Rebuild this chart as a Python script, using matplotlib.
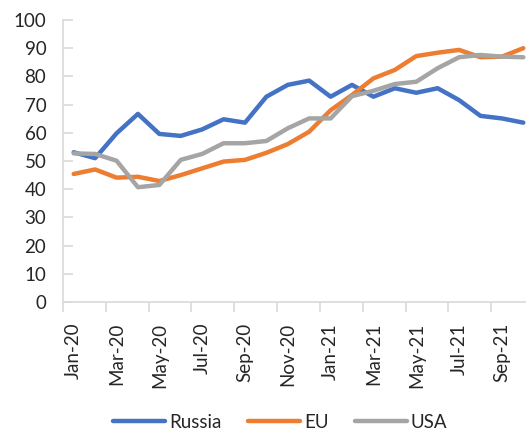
import matplotlib.pyplot as plt
import numpy as np

plt.rcParams['font.family'] = ['Lato', 'DejaVu Sans']

months = ['Jan-20', 'Feb-20', 'Mar-20', 'Apr-20', 'May-20', 'Jun-20', 'Jul-20', 'Aug-20',
          'Sep-20', 'Oct-20', 'Nov-20', 'Dec-20', 'Jan-21', 'Feb-21', 'Mar-21', 'Apr-21',
          'May-21', 'Jun-21', 'Jul-21', 'Aug-21', 'Sep-21', 'Oct-21']
russia = [53.1, 51.0, 59.8, 66.7, 59.6, 58.9, 61.2, 64.8, 63.6, 72.8, 77.0, 78.5,
          72.8, 77.0, 72.8, 75.8, 74.2, 75.8, 71.6, 66.0, 65.1, 63.6]
eu = [45.4, 47.0, 44.1, 44.4, 42.9, 45.0, 47.4, 49.8, 50.4, 52.9, 56.0, 60.4,
      68.0, 73.4, 79.3, 82.3, 87.2, 88.4, 89.4, 86.8, 87.0, 90.0]
usa = [52.7, 52.5, 50.1, 40.7, 41.5, 50.4, 52.5, 56.3, 56.3, 57.1, 61.6, 65.1,
       65.1, 73.0, 74.9, 77.3, 78.1, 82.9, 86.8, 87.6, 87.0, 86.8]

x = np.arange(len(months))
axis_grey = '#D9D9D9'
text_col = '#262626'

fig = plt.figure(figsize=(5.26, 4.30), dpi=100)
ax = fig.add_axes([63 / 526, 1 - 302 / 430, (534 - 63) / 526, 282 / 430])

ax.plot(x, russia, color='#4472C4', lw=3.2, label='Russia', solid_capstyle='round')
ax.plot(x, eu, color='#ED7D31', lw=3.2, label='EU', solid_capstyle='round')
ax.plot(x, usa, color='#A5A5A5', lw=3.2, label='USA', solid_capstyle='round')

ax.set_xlim(-0.5, len(months) - 0.5)
ax.set_ylim(0, 100)
ax.set_yticks(np.arange(0, 101, 10))

# tick marks between category pairs, labels on every second month
ax.set_xticks(np.arange(-0.5, len(months), 2))
ax.set_xticklabels([])
ax.set_xticks(x[::2], minor=True)
ax.set_xticklabels(months[::2], minor=True, rotation=90, fontsize=13.5, color=text_col)
ax.tick_params(axis='x', which='major', length=7, color=axis_grey, width=1.2)
ax.tick_params(axis='x', which='minor', length=0, pad=15)
ax.tick_params(axis='y', direction='in', length=7, color=axis_grey, width=1.2,
               labelsize=13.5, labelcolor=text_col, pad=12)

for s in ['top', 'right']:
    ax.spines[s].set_visible(False)
for s in ['left', 'bottom']:
    ax.spines[s].set_color(axis_grey)
    ax.spines[s].set_linewidth(1.2)

fig.legend(loc='center', bbox_to_anchor=(280 / 526, 1 - 422 / 430), ncol=3, frameon=False,
           fontsize=13.5, handlelength=2.8, handletextpad=0.2, columnspacing=1.4,
           labelcolor=text_col)

fig.savefig('out.png', dpi=100)
